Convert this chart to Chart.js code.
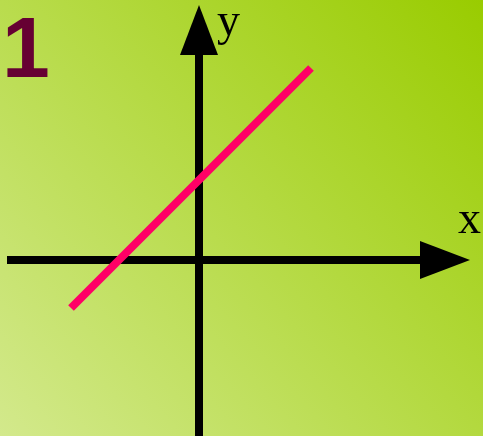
<!DOCTYPE html>
<html>
<head>
<meta charset="utf-8">
<script src="https://cdn.jsdelivr.net/npm/chart.js@4/dist/chart.umd.min.js"></script>
<style>
    html, body { margin: 0; padding: 0; background: #b8dc4a; }
    canvas { display: block; }
</style>
</head>
<body>
<canvas id="graphChart" width="483" height="436"></canvas>
<script>
// Linear function y = x + 2, drawn between two x values
const lineX = [-3.2, 2.8];
const lineY = [-1.2, 4.8];

// Visible window of the coordinate plane
const xWindow = [-4.975, 7.1];
const yWindow = [-4.4, 6.5];

// Where the axis shafts start and where the arrow tips end
const xAxisRange = [-4.8, 6.775];
const yAxisRange = [-4.4, 6.375];

const axisLabels = ['x', 'y'];
const exerciseNumber = '1';

// Background, axes, arrows and labels (all under the graph line)
const planePlugin = {
    id: 'plane',
    beforeDraw(chart) {
        const ctx = chart.ctx;
        const w = chart.width, h = chart.height;
        const grad = ctx.createLinearGradient(0, h, w, 0);
        grad.addColorStop(0, '#d3e98c');
        grad.addColorStop(1, '#99cc00');
        ctx.save();
        ctx.fillStyle = grad;
        ctx.fillRect(0, 0, w, h);
        ctx.restore();
    },
    beforeDatasetsDraw(chart) {
        const ctx = chart.ctx;
        const xs = chart.scales.x, ys = chart.scales.y;
        const ox = xs.getPixelForValue(0);
        const oy = ys.getPixelForValue(0);
        const arrowLen = 50, arrowHalf = 19;

        ctx.save();
        ctx.strokeStyle = '#000';
        ctx.fillStyle = '#000';
        ctx.lineWidth = 8;
        ctx.lineCap = 'butt';

        // horizontal axis
        const xStart = xs.getPixelForValue(xAxisRange[0]);
        const xTip = xs.getPixelForValue(xAxisRange[1]);
        ctx.beginPath();
        ctx.moveTo(xStart, oy);
        ctx.lineTo(xTip - arrowLen + 1, oy);
        ctx.stroke();
        ctx.beginPath();
        ctx.moveTo(xTip, oy);
        ctx.lineTo(xTip - arrowLen, oy - arrowHalf);
        ctx.lineTo(xTip - arrowLen, oy + arrowHalf);
        ctx.closePath();
        ctx.fill();

        // vertical axis
        const yStart = ys.getPixelForValue(yAxisRange[0]);
        const yTip = ys.getPixelForValue(yAxisRange[1]);
        ctx.beginPath();
        ctx.moveTo(ox, yStart);
        ctx.lineTo(ox, yTip + arrowLen - 1);
        ctx.stroke();
        ctx.beginPath();
        ctx.moveTo(ox, yTip);
        ctx.lineTo(ox - arrowHalf, yTip + arrowLen);
        ctx.lineTo(ox + arrowHalf, yTip + arrowLen);
        ctx.closePath();
        ctx.fill();

        // axis names
        ctx.font = '46px "Liberation Serif", "DejaVu Serif", serif';
        ctx.textBaseline = 'alphabetic';
        let m = ctx.measureText(axisLabels[0]);
        ctx.fillText(axisLabels[0], 458 + m.actualBoundingBoxLeft, oy - 27);
        m = ctx.measureText(axisLabels[1]);
        ctx.fillText(axisLabels[1], ox + 18 + m.actualBoundingBoxLeft, 35);

        // exercise number
        ctx.font = 'bold 86px "Liberation Sans", Arial, sans-serif';
        ctx.fillStyle = '#660033';
        m = ctx.measureText(exerciseNumber);
        ctx.fillText(exerciseNumber, 7 + m.actualBoundingBoxLeft, 77);
        ctx.restore();
    }
};

const ctx = document.getElementById('graphChart').getContext('2d');
new Chart(ctx, {
    type: 'line',
    data: {
        datasets: [{
            data: lineX.map((x, i) => ({ x: x, y: lineY[i] })),
            borderColor: '#ff0066',
            borderWidth: 8,
            borderCapStyle: 'butt',
            pointRadius: 0,
            fill: false,
            tension: 0
        }]
    },
    options: {
        responsive: false,
        animation: false,
        devicePixelRatio: 1,
        layout: { padding: 0 },
        plugins: {
            legend: { display: false },
            tooltip: { enabled: false }
        },
        scales: {
            x: { type: 'linear', min: xWindow[0], max: xWindow[1], display: false },
            y: { type: 'linear', min: yWindow[0], max: yWindow[1], display: false }
        }
    },
    plugins: [planePlugin]
});
</script>
</body>
</html>
